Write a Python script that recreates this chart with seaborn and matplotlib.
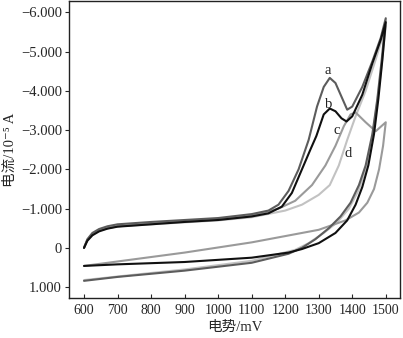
import numpy as np
import pandas as pd
import matplotlib
matplotlib.use("Agg")
import matplotlib.pyplot as plt
import seaborn as sns
from matplotlib.ticker import FuncFormatter

sns.set_style("ticks")
plt.rcParams['font.family'] = ['Liberation Serif', 'Noto Sans CJK SC', 'DejaVu Sans']

# ---- data (potential in mV, current in 1e-5 A; forward then reverse scan) ----
a_E = [600, 610, 625, 645, 670, 700, 800, 900, 1000, 1100, 1150, 1180, 1210, 1240, 1270, 1295, 1315, 1333,
       1350, 1368, 1385, 1400, 1430, 1460, 1485, 1500,
       1488, 1475, 1460, 1440, 1420, 1395, 1365, 1330, 1290, 1250, 1210, 1100, 900, 700, 600]
a_I = [0.0, -0.22, -0.38, -0.48, -0.55, -0.6, -0.66, -0.71, -0.76, -0.86, -0.95, -1.1, -1.45, -2.0, -2.75, -3.6, -4.1, -4.33,
       -4.2, -3.85, -3.52, -3.6, -4.1, -4.75, -5.35, -5.85,
       -4.8, -3.8, -2.9, -2.1, -1.6, -1.15, -0.8, -0.5, -0.22, 0.0, 0.15, 0.38, 0.58, 0.74, 0.84]

b_E = [600, 610, 625, 645, 670, 700, 800, 900, 1000, 1100, 1150, 1190, 1220, 1250, 1275, 1293, 1315, 1333,
       1350, 1368, 1383, 1400, 1430, 1460, 1485, 1500,
       1490, 1478, 1465, 1448, 1430, 1410, 1385, 1350, 1300, 1250, 1210, 1100, 900, 700, 600]
b_I = [0.0, -0.18, -0.32, -0.42, -0.49, -0.54, -0.6, -0.66, -0.71, -0.8, -0.88, -1.05, -1.4, -2.0, -2.5, -2.85, -3.4, -3.55,
       -3.48, -3.3, -3.22, -3.35, -3.9, -4.7, -5.3, -5.75,
       -4.8, -3.8, -2.9, -2.1, -1.55, -1.1, -0.7, -0.38, -0.12, 0.03, 0.12, 0.25, 0.36, 0.42, 0.46]

c_E = [600, 610, 625, 645, 670, 700, 800, 900, 1000, 1100, 1180, 1230, 1280, 1320, 1350, 1375, 1395, 1410,
       1440, 1470, 1500,
       1492, 1480, 1465, 1445, 1420, 1380, 1300, 1100, 900, 600]
c_I = [0.0, -0.2, -0.34, -0.44, -0.5, -0.55, -0.62, -0.67, -0.72, -0.82, -1.0, -1.2, -1.6, -2.1, -2.6, -3.1, -3.4, -3.45,
       -3.2, -2.97, -3.2,
       -2.6, -2.0, -1.5, -1.15, -0.9, -0.7, -0.46, -0.14, 0.12, 0.46]

d_E = [600, 610, 625, 645, 670, 700, 800, 900, 1000, 1100, 1200, 1250, 1300, 1333, 1360, 1385, 1410, 1440, 1470, 1500,
       1487, 1473, 1458, 1440, 1418, 1390, 1355, 1315, 1270, 1230, 1100, 900, 600]
d_I = [0.0, -0.2, -0.34, -0.44, -0.5, -0.55, -0.6, -0.65, -0.7, -0.78, -0.95, -1.1, -1.35, -1.6, -2.1, -2.75, -3.35, -4.0, -4.8, -5.65,
       -4.6, -3.6, -2.7, -2.0, -1.45, -1.0, -0.65, -0.38, -0.12, 0.05, 0.33, 0.55, 0.82]

curves = {"d": (d_E, d_I), "c": (c_E, c_I), "a": (a_E, a_I), "b": (b_E, b_I)}
colors = {"a": "#5c5c5c", "b": "#101010", "c": "#9a9a9a", "d": "#c2c2c2"}

x_ticks = [600, 700, 800, 900, 1000, 1100, 1200, 1300, 1400, 1500]
y_ticks = [-6, -5, -4, -3, -2, -1, 0, 1]

labels = ["a", "b", "c", "d"]
label_E = [1327, 1330, 1354, 1389]
label_I = [-4.52, -3.66, -3.0, -2.4]

rows = []
for name, (E, I) in curves.items():
    for k, (e, i) in enumerate(zip(E, I)):
        rows.append({"curve": name, "E": e, "I": i, "order": k})
df = pd.DataFrame(rows)

fig = plt.figure(figsize=(4.03, 3.38), dpi=100)
ax = fig.add_axes([0.171, 0.118, 0.822, 0.878])

sns.lineplot(data=df, x="E", y="I", hue="curve", hue_order=["d", "c", "a", "b"],
             palette=colors, sort=False, estimator=None, units="curve",
             linewidth=1.5, legend=False, ax=ax)

for t, e, i in zip(labels, label_E, label_I):
    ax.text(e, i, t, ha="center", va="center", fontsize=10.5, color="#222222",
            family=['Liberation Serif'])

ax.set_xlim(555, 1543)
ax.set_ylim(1.28, -6.28)
ax.set_xticks(x_ticks)
ax.set_yticks(y_ticks)

def yfmt(v, pos):
    if abs(v) < 1e-9:
        return "0"
    return ("%.3f" % v).replace("-", "\u2212")
ax.yaxis.set_major_formatter(FuncFormatter(yfmt))

ax.tick_params(axis="x", direction="in", length=3, labelsize=10, pad=4)
ax.tick_params(axis="y", direction="out", length=3, labelsize=10.5, pad=2)
for s in ax.spines.values():
    s.set_visible(True)
    s.set_linewidth(1.0)
    s.set_color("#222222")

ax.set_xlabel("电势/mV", fontsize=10.5, labelpad=3)
ax.set_ylabel("电流/10\u207b\u2075 A", fontsize=10.5, labelpad=3)

fig.savefig("out.png", dpi=100)
